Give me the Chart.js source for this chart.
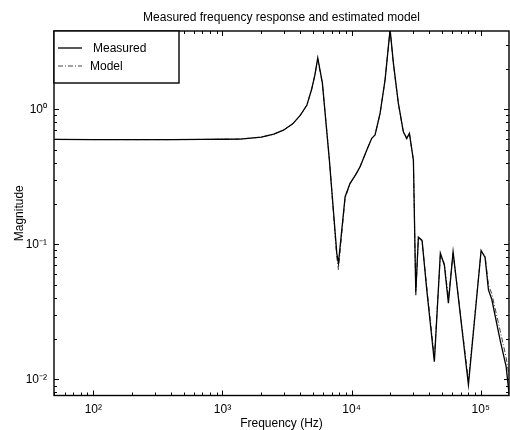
<!DOCTYPE html>
<html>
<head>
<meta charset="utf-8">
<script src="https://cdn.jsdelivr.net/npm/chart.js@4/dist/chart.umd.min.js"></script>
<style>
html, body { margin: 0; padding: 0; background: #fff; }
</style>
</head>
<body>
<canvas id="chart" width="510" height="430"></canvas>
<script>
// frequency points (Hz)
var freq = [50, 100, 200, 400, 700, 1000, 1370, 2000, 2500, 2965,
    3500, 4000, 4500, 4900, 5200, 5470, 5940, 6730, 7680, 7910,
    8910, 9730, 10800, 11640, 13120, 14330, 15200, 16620, 18170, 19870,
    21090, 23020, 25170, 26740, 28040, 30110, 31420, 32910, 35150, 38220,
    43760, 48700, 52320, 56200, 61100, 80320, 100700, 108100, 114800, 121900,
    141400, 157400, 166000];
var measured = [0.598, 0.597, 0.596, 0.596, 0.598, 0.600, 0.602, 0.622, 0.655, 0.70,
    0.78, 0.90, 1.07, 1.40, 1.80, 2.40, 1.57, 0.42, 0.086, 0.0723,
    0.225, 0.283, 0.33, 0.376, 0.50, 0.61, 0.645, 0.934, 1.65, 3.9,
    2.19, 1.11, 0.68, 0.61, 0.664, 0.42, 0.0438, 0.113, 0.107, 0.046,
    0.0135, 0.086, 0.070, 0.0366, 0.088, 0.0091, 0.09, 0.080, 0.046, 0.039,
    0.0195, 0.0124, 0.0077];
var model = [0.598, 0.597, 0.596, 0.596, 0.598, 0.600, 0.602, 0.622, 0.655, 0.70,
    0.78, 0.90, 1.07, 1.40, 1.80, 2.35, 1.55, 0.43, 0.080, 0.065,
    0.22, 0.28, 0.33, 0.376, 0.50, 0.61, 0.645, 0.93, 1.65, 3.9,
    2.15, 1.10, 0.68, 0.60, 0.66, 0.42, 0.042, 0.112, 0.105, 0.048,
    0.0145, 0.083, 0.072, 0.040, 0.086, 0.0098, 0.088, 0.082, 0.050, 0.043,
    0.023, 0.0145, 0.0105];
var seriesNames = ['Measured', 'Model'];

var xTicks = [100, 1000, 10000, 100000];
var xTickLabels = ['10²', '10³', '10⁴', '10⁵'];
var yTicks = [0.01, 0.1, 1];
var yTickLabels = ['10⁻²', '10⁻¹', '10⁰'];

var FONT = '"Liberation Sans", Arial, Helvetica, sans-serif';
Chart.defaults.font.family = FONT;
Chart.defaults.color = '#000';

function pts(vals) {
    return freq.map(function (f, i) { return { x: f, y: vals[i] }; });
}

// box round the plot, inward ticks on all four sides
var frame = {
    id: 'frame',
    afterDatasetsDraw: function (chart) {
        var ctx = chart.ctx, a = chart.chartArea;
        var sx = chart.scales.x, sy = chart.scales.y;
        ctx.save();
        ctx.strokeStyle = '#000';
        ctx.lineWidth = 1;
        ctx.beginPath();
        var d, k, v, p, len;
        for (d = 10; d <= 1e6; d *= 10) {
            for (k = 1; k < 10; k++) {
                v = k * d;
                if (v < sx.min || v > sx.max) continue;
                p = Math.round(sx.getPixelForValue(v)) + 0.5;
                len = k == 1 ? 5 : 3;
                ctx.moveTo(p, a.bottom); ctx.lineTo(p, a.bottom - len);
                ctx.moveTo(p, a.top); ctx.lineTo(p, a.top + len);
            }
        }
        for (d = 0.001; d <= 10; d *= 10) {
            for (k = 1; k < 10; k++) {
                v = k * d;
                if (v < sy.min || v > sy.max) continue;
                p = Math.round(sy.getPixelForValue(v)) + 0.5;
                len = k == 1 ? 5 : 3;
                ctx.moveTo(a.left, p); ctx.lineTo(a.left + len, p);
                ctx.moveTo(a.right, p); ctx.lineTo(a.right - len, p);
            }
        }
        ctx.stroke();
        ctx.lineWidth = 1.4;
        ctx.strokeRect(a.left, a.top, a.right - a.left, a.bottom - a.top);
        ctx.restore();
    },
    afterDraw: function (chart) {
        // legend box in the upper left corner
        var ctx = chart.ctx, a = chart.chartArea;
        var ds = chart.data.datasets;
        ctx.save();
        ctx.fillStyle = '#fff';
        ctx.fillRect(a.left, a.top, 125, 52);
        ctx.strokeStyle = '#000';
        ctx.lineWidth = 1.4;
        ctx.strokeRect(a.left, a.top, 125, 52);
        var rows = [17, 35];
        var textX = [39, 36];
        ctx.font = '12px ' + FONT;
        ctx.textBaseline = 'middle';
        for (var i = 0; i < ds.length; i++) {
            ctx.beginPath();
            ctx.strokeStyle = ds[i].borderColor;
            ctx.lineWidth = ds[i].borderWidth;
            ctx.setLineDash(ds[i].borderDash || []);
            ctx.moveTo(a.left + 4, a.top + rows[i]);
            ctx.lineTo(a.left + 28, a.top + rows[i]);
            ctx.stroke();
            ctx.setLineDash([]);
            ctx.fillStyle = '#000';
            ctx.fillText(ds[i].label, a.left + textX[i], a.top + rows[i] + 1);
        }
        ctx.restore();
    }
};

new Chart(document.getElementById('chart'), {
    type: 'line',
    data: {
        datasets: [
            {
                label: seriesNames[0],
                data: pts(measured),
                borderColor: '#000',
                borderWidth: 1.3,
                pointRadius: 0,
                fill: false
            },
            {
                label: seriesNames[1],
                data: pts(model),
                borderColor: '#444',
                borderWidth: 1,
                borderDash: [5, 2, 1, 2],
                pointRadius: 0,
                fill: false
            }
        ]
    },
    options: {
        responsive: false,
        animation: false,
        devicePixelRatio: 1,
        layout: { padding: { left: 0, right: 1, top: 0, bottom: 0 } },
        plugins: {
            legend: { display: false },
            tooltip: { enabled: false },
            title: {
                display: true,
                fullSize: false,
                text: 'Measured frequency response and estimated model',
                font: { size: 12, weight: 'normal' },
                color: '#000',
                padding: { top: 10, bottom: 6.6 }
            }
        },
        scales: {
            x: {
                type: 'logarithmic',
                min: 49.6,
                max: 165600,
                grid: { display: false, drawTicks: false },
                border: { display: false },
                afterBuildTicks: function (s) {
                    s.ticks = xTicks.map(function (v) { return { value: v }; });
                },
                afterFit: function (s) { s.height = 34.5; },
                ticks: {
                    autoSkip: false,
                    maxRotation: 0,
                    padding: 7,
                    font: { size: 12 },
                    color: '#000',
                    callback: function (v) { return xTickLabels[xTicks.indexOf(v)]; }
                },
                title: {
                    display: true,
                    text: 'Frequency (Hz)',
                    font: { size: 12, lineHeight: 1 },
                    color: '#000',
                    padding: { top: 0, bottom: 0 }
                }
            },
            y: {
                type: 'logarithmic',
                min: 0.00759,
                max: 3.8,
                grid: { display: false, drawTicks: false },
                border: { display: false },
                afterBuildTicks: function (s) {
                    s.ticks = yTicks.map(function (v) { return { value: v }; });
                },
                afterFit: function (s) { s.width = 54; },
                ticks: {
                    autoSkip: false,
                    padding: 7,
                    font: { size: 12 },
                    color: '#000',
                    callback: function (v) { return yTickLabels[yTicks.indexOf(v)]; }
                },
                title: {
                    display: true,
                    text: 'Magnitude',
                    font: { size: 12, lineHeight: 1.2 },
                    color: '#000',
                    padding: { top: 12, bottom: 0 }
                }
            }
        }
    },
    plugins: [frame]
});
</script>
</body>
</html>
